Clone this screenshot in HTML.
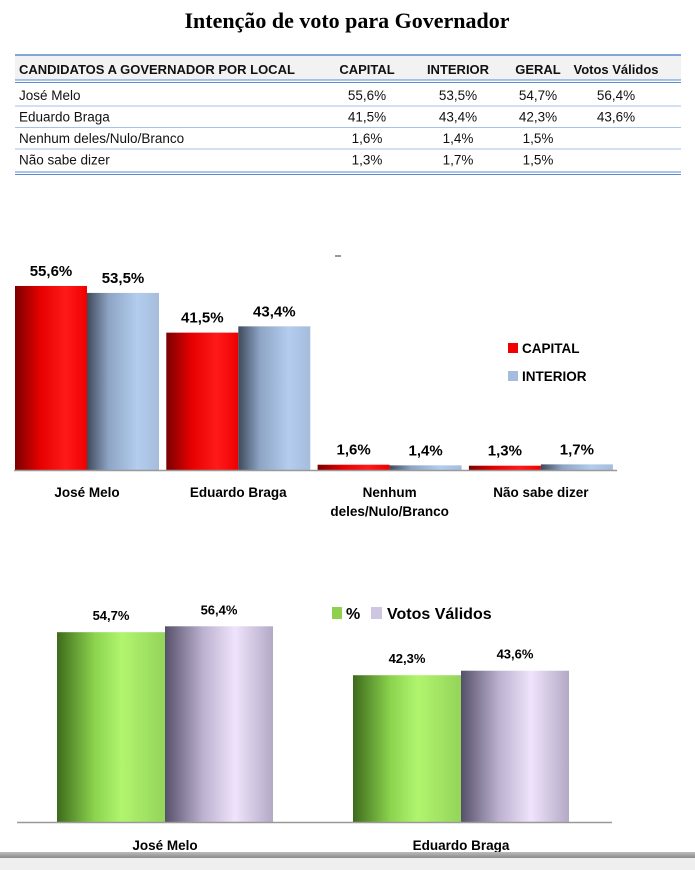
<!DOCTYPE html>
<html><head><meta charset="utf-8"><style>
html,body{margin:0;padding:0;background:#fff;width:695px;height:870px;overflow:hidden;font-family:"Liberation Sans",sans-serif}
svg{display:block}
</style></head><body>
<svg width="695" height="870" viewBox="0 0 695 870">
<defs>
<linearGradient id="gRed" x1="0" x2="1"><stop offset="0" stop-color="#7a0000"/><stop offset="0.35" stop-color="#e60000"/><stop offset="0.7" stop-color="#ff1a1a"/><stop offset="1" stop-color="#f00000"/></linearGradient>
<linearGradient id="gBlue" x1="0" x2="1"><stop offset="0" stop-color="#3e4a5c"/><stop offset="0.3" stop-color="#8ea4c4"/><stop offset="0.7" stop-color="#b3cdee"/><stop offset="1" stop-color="#a6bcdc"/></linearGradient>
<linearGradient id="gGreen" x1="0" x2="1"><stop offset="0" stop-color="#3e6a1c"/><stop offset="0.35" stop-color="#8cd44e"/><stop offset="0.6" stop-color="#b1f56e"/><stop offset="1" stop-color="#94d45a"/></linearGradient>
<linearGradient id="gPurple" x1="0" x2="1"><stop offset="0" stop-color="#56506a"/><stop offset="0.35" stop-color="#bcb1cf"/><stop offset="0.65" stop-color="#efe4fb"/><stop offset="1" stop-color="#b3a9c6"/></linearGradient>
<linearGradient id="gFoot" x1="0" x2="0" y1="0" y2="1"><stop offset="0" stop-color="#bdbdbd"/><stop offset="1" stop-color="#8a8a8a"/></linearGradient>
</defs>
<text x="347" y="28" text-anchor="middle" font-family="Liberation Serif,serif" font-weight="bold" font-size="22">Intenção de voto para Governador</text>
<g id="table" font-size="14" fill="#111"></g>
<g id="chart1"></g>
<g id="chart2"></g>
<rect x="0" y="852" width="695" height="6" fill="url(#gFoot)"/>
<rect x="0" y="858" width="695" height="12" fill="#efefef"/>
</svg>
<script>
const NS="http://www.w3.org/2000/svg";
function mk(p,tag,a,txt){const e=document.createElementNS(NS,tag);for(const k in a)e.setAttribute(k,a[k]);if(txt!=null)e.textContent=txt;p.appendChild(e);return e;}

// table data
const tableHeaders=["CANDIDATOS A GOVERNADOR POR LOCAL","CAPITAL","INTERIOR","GERAL","Votos Válidos"];
const tableRows=[["José Melo","55,6%","53,5%","54,7%","56,4%"],["Eduardo Braga","41,5%","43,4%","42,3%","43,6%"],["Nenhum deles/Nulo/Branco","1,6%","1,4%","1,5%",""],["Não sabe dizer","1,3%","1,7%","1,5%",""]];

// chart 1 data
const cats1=["José Melo","Eduardo Braga","Nenhum|deles/Nulo/Branco","Não sabe dizer"];
const capital=[55.6,41.5,1.6,1.3];
const interior=[53.5,43.4,1.4,1.7];
const capitalLabels=["55,6%","41,5%","1,6%","1,3%"];
const interiorLabels=["53,5%","43,4%","1,4%","1,7%"];

// chart 2 data
const cats2=["José Melo","Eduardo Braga"];
const geral=[54.7,42.3];
const validos=[56.4,43.6];
const geralLabels=["54,7%","42,3%"];
const validosLabels=["56,4%","43,6%"];

// table
(function(){
 const t=document.getElementById('table');
 mk(t,'rect',{x:15,y:55,width:666,height:25,fill:'#f2f2f2'});
 mk(t,'line',{x1:15,x2:681,y1:55,y2:55,stroke:'#5b8bd0','stroke-width':1.5});
 mk(t,'line',{x1:15,x2:681,y1:80,y2:80,stroke:'#5b8bd0','stroke-width':1});
 mk(t,'line',{x1:15,x2:681,y1:82.5,y2:82.5,stroke:'#5b8bd0','stroke-width':1});
 const cx=[null,367,458,538,616];
 tableHeaders.forEach((h,i)=>{
  const e=mk(t,'text',{x:i?cx[i]:19,y:74,'font-weight':'bold','font-size':13,'text-anchor':i?'middle':'start'},h);
  
  
 });
 tableRows.forEach((r,ri)=>{
  const y=100+ri*21.5;
  r.forEach((c,i)=>{ if(c) mk(t,'text',{x:i?cx[i]:19,y:y,'text-anchor':i?'middle':'start','font-size':13.5},c); });
  const ly=106+ri*21.5;
  if(ri<3) mk(t,'line',{x1:15,x2:681,y1:ly,y2:ly,stroke:'#a9c1e4','stroke-width':1});
 });
 mk(t,'line',{x1:15,x2:681,y1:172,y2:172,stroke:'#5b8bd0','stroke-width':1});
 mk(t,'line',{x1:15,x2:681,y1:174.5,y2:174.5,stroke:'#5b8bd0','stroke-width':1});
})();

// chart 1
(function(){
 const g=document.getElementById('chart1');
 const base=470, k=3.31, gx0=15, gw=151.3, bw=72;
 const y=v=>base-v*k;
 mk(g,'line',{x1:335,x2:341,y1:256,y2:256,stroke:'#333'});
 cats1.forEach((c,i)=>{
  const x0=gx0+i*gw;
  const r=mk(g,'rect',{x:x0,y:y(capital[i]),width:bw,height:base-y(capital[i]),fill:'url(#gRed)'});
  
  
  const b=mk(g,'rect',{x:x0+bw,y:y(interior[i]),width:bw,height:base-y(interior[i]),fill:'url(#gBlue)'});
  
  
  mk(g,'text',{x:x0+bw/2,y:y(capital[i])-10,'text-anchor':'middle','font-weight':'bold','font-size':15},capitalLabels[i]);
  mk(g,'text',{x:x0+bw*1.5,y:y(interior[i])-10,'text-anchor':'middle','font-weight':'bold','font-size':15},interiorLabels[i]);
  c.split('|').forEach((ln,j)=>{
   const t=mk(g,'text',{x:x0+bw,y:497+j*19,'text-anchor':'middle','font-weight':'bold','font-size':13.5},ln);
   
   
  });
 });
 mk(g,'line',{x1:14,x2:617,y1:base+0.5,y2:base+0.5,stroke:'#999','stroke-width':1.5});
 const l1=mk(g,'rect',{x:508,y:343,width:10,height:10,fill:'#f00000'});
 
 
 mk(g,'text',{x:522,y:353,'font-weight':'bold','font-size':13.5},'CAPITAL');
 const l2=mk(g,'rect',{x:508,y:371,width:10,height:10,fill:'#a6bcdc'});
 
 
 mk(g,'text',{x:522,y:381,'font-weight':'bold','font-size':13.5},'INTERIOR');
})();

// chart 2
(function(){
 const g=document.getElementById('chart2');
 const base=822, k=3.47, gx0=57, gw=296, bw=108;
 const y=v=>base-v*k;
 cats2.forEach((c,i)=>{
  const x0=gx0+i*gw;
  const a=mk(g,'rect',{x:x0,y:y(geral[i]),width:bw,height:base-y(geral[i]),fill:'url(#gGreen)'});
  
  
  const b=mk(g,'rect',{x:x0+bw,y:y(validos[i]),width:bw,height:base-y(validos[i]),fill:'url(#gPurple)'});
  
  
  mk(g,'text',{x:x0+bw/2,y:y(geral[i])-12,'text-anchor':'middle','font-weight':'bold','font-size':13},geralLabels[i]);
  mk(g,'text',{x:x0+bw*1.5,y:y(validos[i])-12,'text-anchor':'middle','font-weight':'bold','font-size':13},validosLabels[i]);
  const t=mk(g,'text',{x:x0+bw,y:850,'text-anchor':'middle','font-weight':'bold','font-size':13.5},c);
  
  
 });
 mk(g,'line',{x1:17,x2:612,y1:base+0.5,y2:base+0.5,stroke:'#999','stroke-width':1.5});
 const l1=mk(g,'rect',{x:332,y:607,width:10,height:12,fill:'#8fd14f'});
 
 
 mk(g,'text',{x:346,y:619,'font-weight':'bold','font-size':16},'%');
 const l2=mk(g,'rect',{x:371,y:607,width:11,height:12,fill:'#cfc6e2'});
 
 
 mk(g,'text',{x:387,y:619,'font-weight':'bold','font-size':16},'Votos Válidos');
})();
</script>
</body></html>
